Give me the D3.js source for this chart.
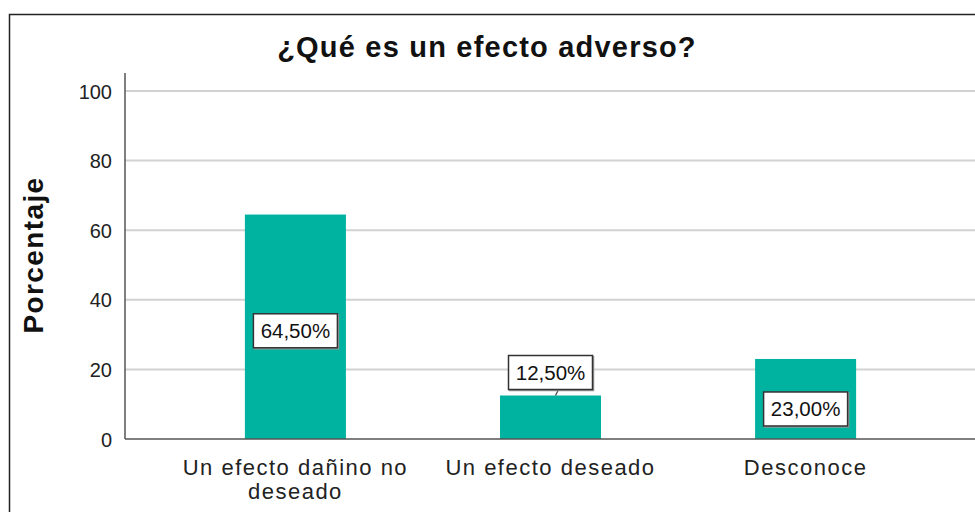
<!doctype html>
<html lang="es">
<head>
<meta charset="UTF-8">
<title>¿Qué es un efecto adverso?</title>
<style>
    body { margin: 0; background: #fff; }
    svg { display: block; font-family: "Liberation Sans", Arial, sans-serif; }
    .tick-label { font-size: 20px; fill: #222; }
    .cat-label { font-size: 22px; fill: #222; letter-spacing: 1.5px; }
    .bar-label { font-size: 20.5px; fill: #111; }
</style>
</head>
<body>
<div class="chart"></div>
<script src="https://cdn.jsdelivr.net/npm/d3@7"></script>
<script>
// data
const categories = [['Un efecto dañino no', 'deseado'], ['Un efecto deseado'], ['Desconoce']]
const values = [64.5, 12.5, 23.0]
const valueLabels = ['64,50%', '12,50%', '23,00%']
const yTicks = [0, 20, 40, 60, 80, 100]

const width = 975, height = 512
const plot = { left: 125, right: 976, top: 73, bottom: 439 }

const svg = d3.select('.chart')
    .append('svg')
    .attr('width', width)
    .attr('height', height)

// outer frame (cut off on right and bottom)
svg.append('rect')
    .attr('x', 9.5).attr('y', 14.5)
    .attr('width', 1000).attr('height', 600)
    .attr('fill', 'none')
    .attr('stroke', '#222')
    .attr('stroke-width', 1.5)

svg.append('text')
    .attr('x', 487).attr('y', 57)
    .attr('text-anchor', 'middle')
    .style('font-size', '29px')
    .style('font-weight', 'bold')
    .style('letter-spacing', '1.2px')
    .attr('fill', '#111')
    .text('¿Qué es un efecto adverso?')

const yScale = d3.scaleLinear()
    .domain([0, 100])
    .range([plot.bottom, 91])

const xScale = d3.scaleBand()
    .domain(d3.range(values.length))
    .range([plot.left, plot.right])
    .paddingInner(0.604)
    .paddingOuter(0.47)

// gridlines
svg.append('g')
    .selectAll('line')
    .data(yTicks.filter(d => d > 0))
    .enter().append('line')
    .attr('x1', plot.left).attr('x2', width)
    .attr('y1', d => yScale(d)).attr('y2', d => yScale(d))
    .attr('stroke', '#d2d2d2')
    .attr('stroke-width', 2)

// y axis
const yAxis = d3.axisLeft(yScale)
    .tickValues(yTicks)
    .tickSize(0)
    .tickPadding(13)
const yg = svg.append('g')
    .attr('transform', 'translate(' + plot.left + ',0)')
    .call(yAxis)
yg.select('.domain').remove()
yg.selectAll('text').attr('class', 'tick-label').attr('font-size', null).attr('font-family', null).attr('dy', '0.35em')

svg.append('text')
    .attr('transform', 'translate(43,255) rotate(-90)')
    .attr('text-anchor', 'middle')
    .style('font-size', '28px')
    .style('font-weight', 'bold')
    .style('letter-spacing', '1.4px')
    .attr('fill', '#111')
    .text('Porcentaje')

// bars
svg.append('g')
    .selectAll('rect')
    .data(values)
    .enter().append('rect')
    .attr('x', (d, i) => xScale(i))
    .attr('y', d => yScale(d))
    .attr('width', xScale.bandwidth())
    .attr('height', d => yScale(0) - yScale(d))
    .attr('fill', '#00b3a0')

// axis lines
svg.append('line')
    .attr('x1', plot.left).attr('x2', plot.left)
    .attr('y1', plot.top).attr('y2', plot.bottom)
    .attr('stroke', '#555').attr('stroke-width', 1.5)
svg.append('line')
    .attr('x1', plot.left).attr('x2', width)
    .attr('y1', plot.bottom).attr('y2', plot.bottom)
    .attr('stroke', '#555').attr('stroke-width', 1.5)

// category labels
const catG = svg.append('g')
categories.forEach(function(lines, i) {
    const t = catG.append('text')
        .attr('class', 'cat-label')
        .attr('text-anchor', 'middle')
    lines.forEach(function(l, j) {
        t.append('tspan')
            .attr('x', xScale(i) + xScale.bandwidth() / 2)
            .attr('y', 475 + j * 24)
            .text(l)
    })
})

// value labels
const boxW = 84, boxH = 34
values.forEach(function(v, i) {
    const cx = xScale(i) + xScale.bandwidth() / 2
    let cy = (yScale(v) + yScale(0)) / 2 + 4
    const small = (yScale(0) - yScale(v)) < 50
    if (small) cy = yScale(v) - 23
    if (i === 2) cy += 6
    const g = svg.append('g')
    if (small) {
        g.append('line')
            .attr('x1', cx + 8).attr('y1', cy + boxH / 2)
            .attr('x2', cx + 5).attr('y2', yScale(v))
            .attr('stroke', '#444').attr('stroke-width', 1.2)
    }
    g.append('rect')
        .attr('x', cx - boxW / 2 + 1).attr('y', cy - boxH / 2 + 1)
        .attr('width', boxW).attr('height', boxH)
        .attr('fill', 'none').attr('stroke', '#999').attr('stroke-width', 1.5)
    g.append('rect')
        .attr('x', cx - boxW / 2).attr('y', cy - boxH / 2)
        .attr('width', boxW).attr('height', boxH)
        .attr('fill', '#fff').attr('stroke', '#333').attr('stroke-width', 1.5)
    g.append('text')
        .attr('class', 'bar-label')
        .attr('x', cx).attr('y', cy)
        .attr('dy', '0.36em')
        .attr('text-anchor', 'middle')
        .text(valueLabels[i])
})
</script>
</body>
</html>
